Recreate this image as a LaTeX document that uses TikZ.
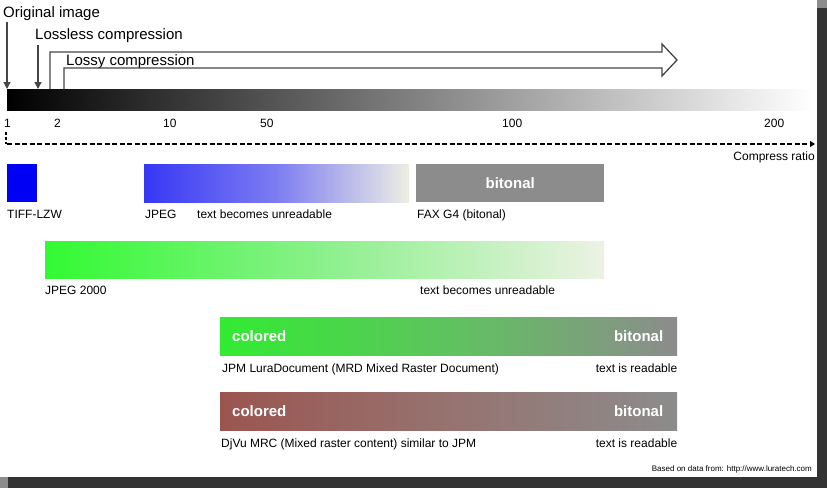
\documentclass[tikz,border=0pt]{standalone}
\usepackage{fontspec}
\setmainfont{Liberation Sans}
\usetikzlibrary{arrows.meta,backgrounds}

\definecolor{framedark}{RGB}{51,51,51}
\definecolor{framelight}{RGB}{140,140,140}
\definecolor{linegray}{RGB}{70,70,70}
\definecolor{gridgray}{RGB}{212,212,212}
\definecolor{tiffblue}{RGB}{0,0,245}
\definecolor{jpegblue}{RGB}{55,55,245}
\definecolor{jpegmid}{RGB}{125,125,242}
\definecolor{fadewhite}{RGB}{238,238,228}
\definecolor{jpkgreen}{RGB}{50,250,50}
\definecolor{jpkmid}{RGB}{140,240,140}
\definecolor{jpkwhite}{RGB}{236,242,228}
\definecolor{jpmgreen}{RGB}{50,235,50}
\definecolor{jpmmid}{RGB}{95,195,95}
\definecolor{bitgray}{RGB}{140,140,140}
\definecolor{djvured}{RGB}{155,85,80}
\definecolor{djvumid}{RGB}{150,115,112}

\tikzset{
  bigtext/.style={anchor=base west, inner sep=0pt, font=\fontsize{15}{18}\selectfont},
  smalltext/.style={anchor=base west, inner sep=0pt, font=\fontsize{12}{14}\selectfont},
  whitetext/.style={inner sep=0pt, text=white, font=\bfseries\fontsize{15}{18}\selectfont},
  codecbox/.style={anchor=north west, inner sep=0pt, draw=none, minimum height=38pt},
  downarrow/.style={draw=linegray, line width=1.3pt, -{Triangle[length=7pt,width=7pt]}},
  blockarrow/.style={draw=linegray, line width=1.3pt, line join=miter},
  gridline/.style={draw=gridgray, line width=0.6pt, dash pattern=on 2pt off 2pt},
  ratioaxis/.style={line width=2.4pt, dash pattern=on 5pt off 2.5pt, -{Triangle[length=5pt,width=6pt]}}
}

\begin{document}
\begin{tikzpicture}[x=1pt, y=-1pt]
  % Page with shadow
  \useasboundingbox (0,0) rectangle (827,488);
  \fill[framelight] (0,0) rectangle (827,488);
  \fill[framedark] (8,8) rectangle (827,488);
  \fill[white] (0,0) rectangle (817,477);

  % Gray scale bar
  \node[codecbox, minimum width=805pt, minimum height=21pt, left color=black, right color=white] (bar) at (7,89) {};

  % Headings with arrows
  \node[bigtext] (orig) at (3,17) {Original image};
  \node[bigtext] (lossless) at (35,39.5) {Lossless compression};
  \node[bigtext] (lossy) at (66,65) {Lossy compression};
  \coordinate (losslesstip) at (38,89);
  \draw[downarrow] ([yshift=-2pt]bar.north west |- orig.south) -- (bar.north west);
  \draw[downarrow] ([yshift=-2pt]losslesstip |- lossless.south) -- (losslesstip);
  \draw[blockarrow] (64,89) -- (64,68) -- (662,68) -- (662,76) -- (677,60)
    -- (662,44) -- (662,52) -- (50,52) -- (50,89);

  % Ratio labels
  \foreach \lab/\pos in {1/4,2/54,10/163,50/260,100/502,200/764}
    \node[smalltext] (tick\lab) at (\pos,127) {\lab};

  % Ratio axis
  \coordinate (axisstart) at (7,144);
  \coordinate (axisend) at (815,144);
  \coordinate (ticktop) at (6,132);
  \draw[ratioaxis] (axisstart) -- (axisend);
  \draw[line width=2.4pt, dash pattern=on 2.5pt off 2.5pt] (ticktop) -- (ticktop |- axisstart);
  \node[smalltext, anchor=base east] (ratio) at (815,160) {Compress ratio};

  % First row: TIFF, JPEG, FAX
  \node[codecbox, minimum width=30pt, fill=tiffblue] (tiff) at (7,164) {};
  \node[codecbox, minimum width=265pt, left color=jpegblue, right color=fadewhite, middle color=jpegmid] (jpeg) at (144,164) {};
  \node[codecbox, minimum width=188pt, fill=bitgray, text=white, font=\bfseries\fontsize{15}{18}\selectfont] (fax) at (416,164) {bitonal};
  \node[smalltext] (tifflab) at ([yshift=-16pt]tiff.south west) {TIFF-LZW};
  \node[smalltext] (jpeglab) at ([xshift=1pt,yshift=-16pt]jpeg.south west) {JPEG};
  \node[smalltext] (jpegnote) at (197,218) {text becomes unreadable};
  \node[smalltext] (faxlab) at ([xshift=1pt,yshift=-16pt]fax.south west) {FAX G4 (bitonal)};

  % Second row: JPEG 2000
  \node[codecbox, minimum width=559pt, minimum height=37pt, left color=jpkgreen, right color=jpkwhite, middle color=jpkmid] (jp2k) at (45,241) {};
  \node[smalltext] (jp2klab) at ([yshift=-16pt]jp2k.south west) {JPEG 2000};
  \node[smalltext] (jp2knote) at (420,294) {text becomes unreadable};

  % Third row: JPM
  \node[codecbox, minimum width=457pt, left color=jpmgreen, right color=bitgray, middle color=jpmmid] (jpm) at (220,317) {};
  \node[whitetext, anchor=west] (jpmcol) at ([xshift=12pt]jpm.west) {colored};
  \node[whitetext, anchor=east] (jpmbit) at ([xshift=-14pt]jpm.east) {bitonal};
  \node[smalltext] (jpmlab) at ([xshift=2pt,yshift=-17pt]jpm.south west) {JPM LuraDocument (MRD Mixed Raster Document)};
  \node[smalltext, anchor=base east] (jpmread) at ([yshift=-17pt]jpm.south east) {text is readable};

  % Fourth row: DjVu
  \node[codecbox, minimum width=457pt, left color=djvured, right color=bitgray, middle color=djvumid] (djvu) at (220,392) {};
  \node[whitetext, anchor=west] (djvucol) at ([xshift=12pt]djvu.west) {colored};
  \node[whitetext, anchor=east] (djvubit) at ([xshift=-14pt]djvu.east) {bitonal};
  \node[smalltext] (djvulab) at ([xshift=1pt,yshift=-17pt]djvu.south west) {DjVu MRC (Mixed raster content) similar to JPM};
  \node[smalltext, anchor=base east] (djvuread) at ([yshift=-17pt]djvu.south east) {text is readable};

  % Source note
  \node[anchor=base east, inner sep=0pt, font=\fontsize{8}{10}\selectfont] (source) at (812,471) {Based on data from: http://www.luratech.com};

  % Grid lines behind the boxes
  \begin{scope}[on background layer]
    \foreach \b in {jp2k,jpeg,djvu,fax}
      \draw[gridline] (bar.south -| \b.north west) -- (\b.north west);
  \end{scope}
\end{tikzpicture}
\end{document}
